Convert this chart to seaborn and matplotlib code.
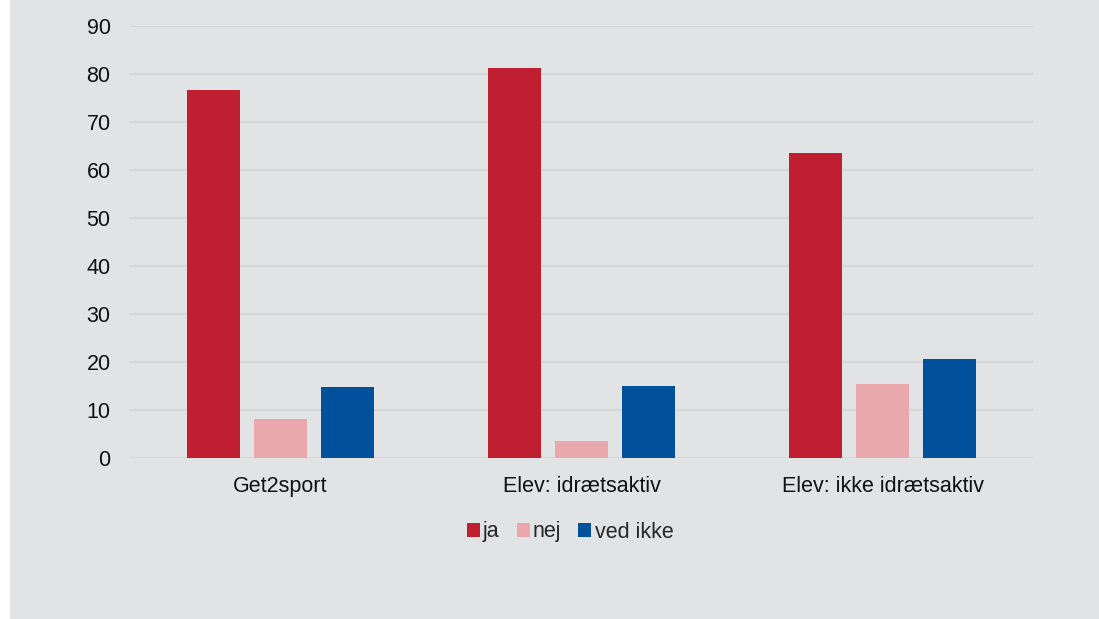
import matplotlib
matplotlib.use("Agg")
import matplotlib.pyplot as plt
import seaborn as sns
import pandas as pd
from matplotlib.patches import Rectangle, Patch

categories = ["Get2sport", "Elev: idrætsaktiv", "Elev: ikke idrætsaktiv"]
series = ["ja", "nej", "ved ikke"]
ja = [76.7, 81.2, 63.5]
nej = [8.1, 3.5, 15.4]
ved_ikke = [14.8, 15.0, 20.6]
colors = ["#c01f32", "#e8a8ae", "#00509c"]

rows = []
for s, vals in zip(series, [ja, nej, ved_ikke]):
    for c, v in zip(categories, vals):
        rows.append({"kategori": c, "svar": s, "værdi": v})
df = pd.DataFrame(rows)

bg = "#e2e3e5"
sns.set_theme(style="whitegrid")
plt.rcParams["font.family"] = ["Liberation Sans", "DejaVu Sans"]

fig = plt.figure(figsize=(10.99, 6.19), dpi=100, facecolor=bg)
fig.patches.append(Rectangle((0, 0), 10 / 1099, 1, transform=fig.transFigure,
                             facecolor="white", edgecolor="none", zorder=0))
ax = fig.add_axes([130 / 1099, 1 - 458 / 619, 903 / 1099, 432 / 619])
ax.set_facecolor(bg)

sns.barplot(data=df, x="kategori", y="værdi", hue="svar", palette=colors,
            width=0.668, gap=0.21, ax=ax, legend=False, saturation=1,
            linewidth=0, edgecolor="none")

ax.set_xlim(-0.5, 2.5)
ax.set_ylim(0, 90)
ax.set_yticks(range(0, 91, 10))
ax.set_xlabel("")
ax.set_ylabel("")
ax.grid(axis="y", color="#d6d7d9", linewidth=1.5)
ax.grid(axis="x", visible=False)
for sp in ax.spines.values():
    sp.set_visible(False)
ax.tick_params(axis="both", length=0, labelsize=15.5, colors="#111111")
ax.tick_params(axis="y", pad=14)
ax.tick_params(axis="x", pad=13)
ax.set_axisbelow(True)

handles = [Patch(facecolor=c, edgecolor="none", label=s) for s, c in zip(series, colors)]
fig.legend(handles=handles, loc="center", bbox_to_anchor=(570 / 1099, 1 - 532 / 619),
           ncol=3, frameon=False, fontsize=15.5, handlelength=0.6, handleheight=0.6,
           handletextpad=0.15, columnspacing=0.8)

fig.savefig("out.png", dpi=100, facecolor=bg)
